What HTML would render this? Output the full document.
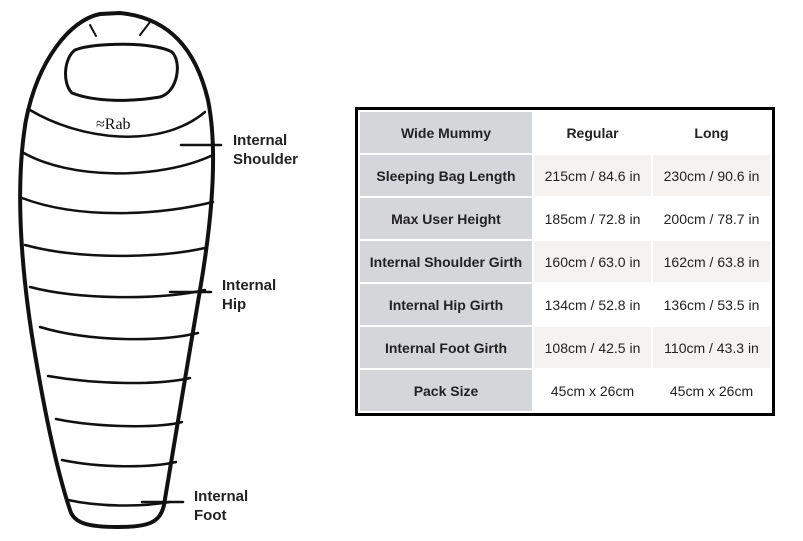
<!DOCTYPE html>
<html><head><style>
body{margin:0;background:#fff;width:803px;height:541px;overflow:hidden;position:relative;font-family:"Liberation Sans",Arial,sans-serif}
.lbl{position:absolute;font-weight:bold;font-size:15px;line-height:19px;color:#222}
table{position:absolute;left:355px;top:107px;border:3px solid #000;border-collapse:separate;border-spacing:2px;background:#fff;width:420px;height:306px;}
td{font-size:14px;text-align:center;color:#222;padding:0;height:41px}
td.h{background:#d5d6da;font-weight:bold;width:172px}
td.b{font-weight:bold}
td.g{background:#f4f3f1}
</style></head><body>
<svg width="350" height="541" style="position:absolute;left:0;top:0" fill="none" stroke="#111" stroke-linecap="round">
<path d="M100 14 C70 20 38 60 26 120 C14 190 22 280 36 360 C48 430 60 480 70 510 C74 524 90 527 118 527 C150 527 160 522 164 505 C175 440 188 360 200 290 C212 220 218 150 208 100 C196 50 170 18 120 13 Z" stroke-width="4"/>
<path d="M90 25 L96 36 M150 22 L140 35" stroke-width="2"/>
<path d="M75 50 C95 42 155 42 172 52 C182 62 178 92 160 97 C130 102 95 102 72 93 C62 83 64 58 75 50 Z" stroke-width="3"/>
<path d="M30 110 C80 140 160 150 205 112" stroke-width="2.5"/>
<path d="M22 152 C70 180 160 180 213 155" stroke-width="2.5"/>
<path d="M22 198 C80 220 160 215 213 202" stroke-width="2.5"/>
<path d="M25 245 C80 260 160 258 205 248" stroke-width="2.5"/>
<path d="M30 287 C80 300 160 300 205 290" stroke-width="2.5"/>
<path d="M40 327 C90 342 160 342 198 333" stroke-width="2.5"/>
<path d="M48 376 C100 385 160 385 190 378" stroke-width="2.5"/>
<path d="M56 419 C100 428 160 428 182 422" stroke-width="2.5"/>
<path d="M62 460 C100 468 150 468 176 462" stroke-width="2.5"/>
<path d="M68 500 C100 507 140 507 170 502" stroke-width="2.5"/>
<path d="M181 145 L221 145 M170 292 L211 292 M142 502 L183 502" stroke-width="2.5"/>
<text x="96" y="129" font-family="Liberation Serif,serif" font-size="16" fill="#111" stroke="none">≈Rab</text>
</svg>
<div class="lbl" style="left:233px;top:131px">Internal<br>Shoulder</div>
<div class="lbl" style="left:222px;top:276px">Internal<br>Hip</div>
<div class="lbl" style="left:194px;top:487px">Internal<br>Foot</div>
<table>
<tr><td class="h b">Wide Mummy</td><td class="b">Regular</td><td class="b">Long</td></tr>
<tr><td class="h b">Sleeping Bag Length</td><td class="g">215cm / 84.6 in</td><td class="g">230cm / 90.6 in</td></tr>
<tr><td class="h b">Max User Height</td><td>185cm / 72.8 in</td><td>200cm / 78.7 in</td></tr>
<tr><td class="h b">Internal Shoulder Girth</td><td class="g">160cm / 63.0 in</td><td class="g">162cm / 63.8 in</td></tr>
<tr><td class="h b">Internal Hip Girth</td><td>134cm / 52.8 in</td><td>136cm / 53.5 in</td></tr>
<tr><td class="h b">Internal Foot Girth</td><td class="g">108cm / 42.5 in</td><td class="g">110cm / 43.3 in</td></tr>
<tr><td class="h b">Pack Size</td><td>45cm x 26cm</td><td>45cm x 26cm</td></tr>
</table>
</body></html>
